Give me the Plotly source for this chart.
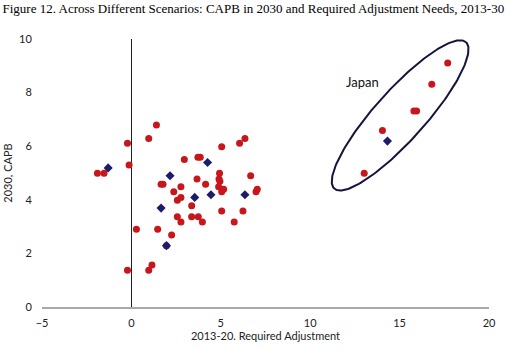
import numpy as np
import plotly.graph_objects as go

# Red circles: other scenarios
red_x = [1.40, 0.97, -0.22, -0.13, -1.90, -1.53, 0.28, -0.22, 0.97, 1.15, 1.47, 2.25, 1.96,
         1.66, 1.77, 2.37, 2.77, 2.57, 2.77, 2.57, 2.77, 2.96, 3.72, 3.85, 3.67, 3.37, 3.37,
         3.74, 3.97, 4.15, 4.93, 4.90, 4.95, 4.88, 5.05, 5.16, 5.05, 5.05, 5.75, 6.05, 6.35,
         6.24, 6.67, 6.97, 7.04,
         17.69, 16.80, 15.80, 15.95, 14.04, 13.02]
red_y = [6.79, 6.29, 6.11, 5.30, 4.99, 4.99, 2.90, 1.37, 1.37, 1.57, 2.90, 2.69, 2.29,
         4.58, 4.58, 4.30, 4.49, 3.98, 4.09, 3.37, 3.17, 5.50, 5.59, 5.59, 4.78, 3.78, 3.37,
         3.37, 3.17, 4.58, 4.99, 4.78, 4.69, 4.49, 4.30, 4.39, 3.58, 5.98, 3.17, 6.11, 6.29,
         3.58, 4.90, 4.30, 4.39,
         9.10, 8.31, 7.31, 7.31, 6.59, 4.99]

# Blue diamonds: baseline
blue_x = [-1.30, 1.96, 1.66, 2.16, 4.26, 3.54, 4.45, 6.35, 14.32]
blue_y = [5.19, 2.29, 3.69, 4.90, 5.39, 4.09, 4.19, 4.19, 6.19]

x_ticks = [-5, 0, 5, 10, 15, 20]
y_ticks = [0, 2, 4, 6, 8, 10]

# Japan ellipse (data units)
ell_center = (15.03, 7.15)
ell_major = (3.68, 2.733)
ell_minor = (-1.039, 0.624)

t = np.linspace(0, 2 * np.pi, 200)
ex = ell_center[0] + ell_major[0] * np.cos(t) + ell_minor[0] * np.sin(t)
ey = ell_center[1] + ell_major[1] * np.cos(t) + ell_minor[1] * np.sin(t)

fig = go.Figure()
fig.add_trace(go.Scatter(x=ex, y=ey, mode="lines", line=dict(color="#14143c", width=2),
                         hoverinfo="skip", showlegend=False))
fig.add_trace(go.Scatter(x=red_x, y=red_y, mode="markers",
                         marker=dict(symbol="circle", size=7, color="#c8161d"),
                         showlegend=False))
fig.add_trace(go.Scatter(x=blue_x, y=blue_y, mode="markers",
                         marker=dict(symbol="diamond", size=7, color="#1c1c6b"),
                         showlegend=False))

fig.add_annotation(x=12.9, y=8.4, text="Japan", showarrow=False,
                   font=dict(family="Lato", size=13, color="#111111"))

fig.update_layout(
    width=507, height=349,
    margin=dict(l=42, r=18, t=39, b=42),
    paper_bgcolor="white", plot_bgcolor="white",
    title=dict(text="Figure 12. Across Different Scenarios: CAPB in 2030 and Required Adjustment Needs, 2013-30",
               x=0.005, xanchor="left", y=0.99, yanchor="top",
               font=dict(family="Liberation Serif", size=13, color="black")),
    font=dict(family="Lato", size=11, color="#222222"),
    xaxis=dict(range=[-5, 20], tickvals=x_ticks, showgrid=False, automargin=False,
               zeroline=True, zerolinecolor="#222222", zerolinewidth=1,
               showline=True, linecolor="#a8a8a8", linewidth=2,
               ticks="outside", ticklen=5, tickcolor="rgba(0,0,0,0)",
               title=dict(text="2013-20. Required Adjustment", standoff=4,
                          font=dict(family="Lato", size=11))),
    yaxis=dict(range=[0, 10], tickvals=y_ticks, showgrid=False, zeroline=False,
               automargin=False,
               showline=False, ticks="outside", ticklen=7, tickcolor="rgba(0,0,0,0)",
               title=dict(text="2030, CAPB", standoff=4,
                          font=dict(family="Lato", size=11))),
)

fig.write_html("out.html")
